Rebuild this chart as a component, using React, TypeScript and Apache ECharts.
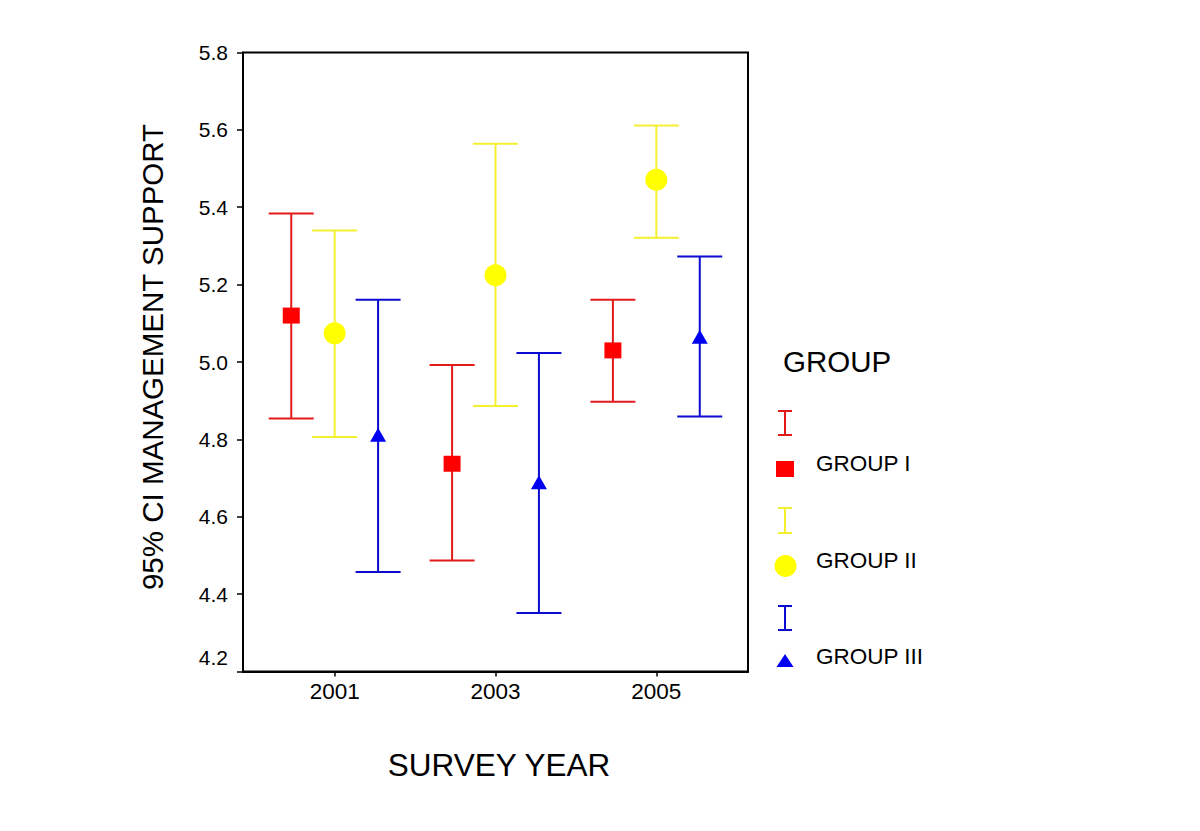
import React, { useEffect, useRef } from "react";
import * as echarts from "echarts";

const years = [2001, 2003, 2005];
const groupNames = ["GROUP I", "GROUP II", "GROUP III"];
const groupOffsets = [-0.54, 0, 0.54];

const group1Mean = [5.12, 4.737, 5.03];
const group1Low = [4.854, 4.487, 4.897];
const group1High = [5.384, 4.992, 5.161];

const group2Mean = [5.074, 5.224, 5.471];
const group2Low = [4.806, 4.886, 5.321];
const group2High = [5.34, 5.564, 5.611];

const group3Mean = [4.812, 4.689, 5.065];
const group3Low = [4.457, 4.351, 4.859];
const group3High = [5.161, 5.023, 5.273];

const yTicks = [4.2, 4.4, 4.6, 4.8, 5.0, 5.2, 5.4, 5.6, 5.8];

const lineColors = ["#E31A1C", "#F4F030", "#0A0AD0"];
const markColors = ["#FF0000", "#FFFF00", "#0000F0"];
const symbols = ["rect", "circle", "triangle"];
const symbolSizes: any[] = [[17, 16], 22, [16, 14]];

const FONT = "Arial";

export default function App() {
  const ref = useRef<HTMLDivElement>(null);

  useEffect(() => {
    if (!ref.current) return;
    const chart = echarts.init(ref.current, null, { renderer: "svg" });

    const means = [group1Mean, group2Mean, group3Mean];
    const lows = [group1Low, group2Low, group3Low];
    const highs = [group1High, group2High, group3High];

    const capHalf = 22.5;

    const errorSeries = [0, 1, 2].map((g) => ({
      type: "custom",
      name: groupNames[g] + " CI",
      z: 2,
      data: years.map((yr, i) => [yr + groupOffsets[g], lows[g][i], highs[g][i]]),
      encode: { x: 0, y: [1, 2] },
      renderItem: (params: any, api: any) => {
        const x = api.value(0);
        const lo = api.coord([x, api.value(1)]);
        const hi = api.coord([x, api.value(2)]);
        const style = { stroke: lineColors[g], lineWidth: 2 };
        return {
          type: "group",
          children: [
            { type: "line", shape: { x1: lo[0], y1: lo[1], x2: hi[0], y2: hi[1] }, style },
            { type: "line", shape: { x1: hi[0] - capHalf, y1: hi[1], x2: hi[0] + capHalf, y2: hi[1] }, style },
            { type: "line", shape: { x1: lo[0] - capHalf, y1: lo[1], x2: lo[0] + capHalf, y2: lo[1] }, style },
          ],
        };
      },
    }));

    const markSeries = [0, 1, 2].map((g) => ({
      type: "scatter",
      name: groupNames[g],
      z: 5,
      symbol: symbols[g],
      symbolSize: symbolSizes[g],
      itemStyle: { color: markColors[g], opacity: 1 },
      data: years.map((yr, i) => [yr + groupOffsets[g], means[g][i]]),
    }));

    const legendX = 785;
    const legendRows = [
      { bar: [411, 435], sym: 469, text: 463 },
      { bar: [508, 533], sym: 566, text: 560 },
      { bar: [606, 630], sym: 661, text: 656 },
    ];
    const legendGraphics: any[] = [];
    legendRows.forEach((r, g) => {
      const st = { stroke: lineColors[g], lineWidth: 2 };
      legendGraphics.push(
        { type: "line", shape: { x1: legendX, y1: r.bar[0], x2: legendX, y2: r.bar[1] }, style: st },
        { type: "line", shape: { x1: legendX - 7, y1: r.bar[0], x2: legendX + 7, y2: r.bar[0] }, style: st },
        { type: "line", shape: { x1: legendX - 7, y1: r.bar[1], x2: legendX + 7, y2: r.bar[1] }, style: st }
      );
      if (g === 0) {
        legendGraphics.push({ type: "rect", shape: { x: legendX - 9, y: r.sym - 8, width: 18, height: 16 }, style: { fill: markColors[0] } });
      } else if (g === 1) {
        legendGraphics.push({ type: "circle", shape: { cx: legendX + 0.5, cy: r.sym, r: 11 }, style: { fill: markColors[1] } });
      } else {
        legendGraphics.push({
          type: "polygon",
          shape: { points: [[legendX, r.sym - 7], [legendX + 8.5, r.sym + 6], [legendX - 8.5, r.sym + 6]] },
          style: { fill: markColors[2] },
        });
      }
      legendGraphics.push({
        type: "text",
        x: 816,
        y: r.text,
        style: { text: groupNames[g], fontSize: 22.5, fontFamily: FONT, fill: "#000", align: "left", verticalAlign: "middle" },
      });
    });

    const option: any = {
      animation: false,
      backgroundColor: "#fff",
      textStyle: { fontFamily: FONT, fontSize: 21, color: "#000" },
      grid: {
        left: 243,
        top: 52.5,
        width: 505,
        height: 619,
        show: true,
        borderColor: "#000",
        borderWidth: 2,
        backgroundColor: "transparent",
      },
      xAxis: {
        type: "value",
        min: 1999.86,
        max: 2006.14,
        splitLine: { show: false },
        axisLine: { show: true, lineStyle: { color: "#000", width: 2 } },
        axisTick: { show: true, length: 5, lineStyle: { color: "#000", width: 1.5 }, customValues: years },
        axisLabel: {
          customValues: years,
          formatter: (v: number) => String(Math.round(v)),
          color: "#000",
          fontSize: 22.5,
          fontFamily: FONT,
          margin: 8,
        },
      },
      yAxis: {
        type: "value",
        min: yTicks[0],
        max: yTicks[yTicks.length - 1],
        interval: 0.2,
        splitLine: { show: false },
        axisLine: { show: true, lineStyle: { color: "#000", width: 2 } },
        axisTick: { show: true, length: 6, lineStyle: { color: "#000", width: 1.5 } },
        axisLabel: {
          color: "#000",
          fontSize: 21,
          fontFamily: FONT,
          margin: 15,
          formatter: (v: number) => (Math.abs(v - 4.2) < 1e-6 ? "{b|4.2}" : v.toFixed(1)),
          rich: { b: { fontSize: 21, fontFamily: FONT, color: "#000", padding: [0, 0, 28, 0] } },
        },
      },
      graphic: [
        {
          type: "text",
          x: 152,
          y: 357,
          rotation: Math.PI / 2,
          style: {
            text: "95% CI MANAGEMENT SUPPORT",
            fontSize: 29.5,
            fontFamily: FONT,
            fill: "#000",
            align: "center",
            verticalAlign: "middle",
          },
        },
        {
          type: "text",
          x: 499,
          y: 765,
          style: { text: "SURVEY YEAR", fontSize: 31.5, fontFamily: FONT, fill: "#000", align: "center", verticalAlign: "middle" },
        },
        {
          type: "text",
          x: 783,
          y: 361,
          style: { text: "GROUP", fontSize: 29.5, fontFamily: FONT, fill: "#000", align: "left", verticalAlign: "middle" },
        },
        ...legendGraphics,
      ],
      series: [...errorSeries, ...markSeries],
    };

    chart.setOption(option);
    return () => chart.dispose();
  }, []);

  return (
    <div
      ref={ref}
      style={{ position: "absolute", left: 0, top: 0, width: 1200, height: 831, background: "#fff" }}
    />
  );
}
